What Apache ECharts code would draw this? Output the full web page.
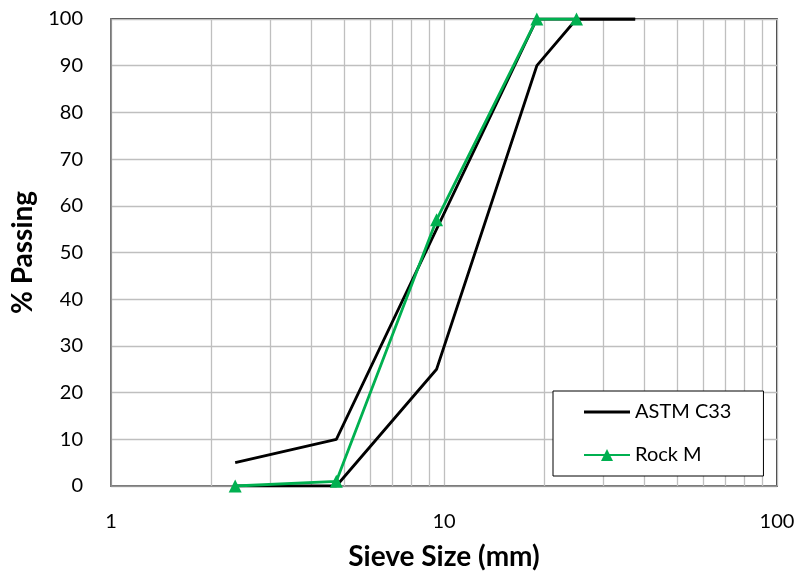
<!DOCTYPE html>
<html>
<head>
<meta charset="utf-8">
<script src="https://cdn.jsdelivr.net/npm/echarts@6/dist/echarts.min.js"></script>
<style>
  html, body { margin: 0; padding: 0; background: #fff; }
  #chart { width: 803px; height: 582px; }
</style>
</head>
<body>
<div id="chart"></div>
<script>
// Sieve sizes (mm) and percent passing
const sieveSizes = [2.36, 4.75, 9.5, 19, 25, 37.5];
const astmUpper = [5, 10, 55, 100, 100, 100];
const astmLower = [0, 0, 25, 90, 100, 100];
const rockSizes = [2.36, 4.75, 9.5, 19, 25];
const rockM = [0, 1, 57, 100, 100];
const xTicks = [1, 10, 100];
const minorGrid = [2, 3, 4, 5, 6, 7, 8, 9, 20, 30, 40, 50, 60, 70, 80, 90];

const FONT = 'Lato, "Open Sans", sans-serif';
const pairs = (xs, ys) => xs.map((x, i) => [x, ys[i]]);

const chart = echarts.init(document.getElementById('chart'), null, { renderer: 'canvas' });
chart.setOption({
  animation: false,
  backgroundColor: '#fff',
  grid: {
    left: 111, top: 19, right: 26, bottom: 96,
    show: true, borderColor: '#000', borderWidth: 1.5, backgroundColor: 'transparent'
  },
  xAxis: {
    type: 'log', logBase: 10, min: 1, max: 100,
    name: 'Sieve Size (mm)', nameLocation: 'middle', nameGap: 57,
    nameTextStyle: { fontFamily: FONT, fontWeight: 'bold', fontSize: 28, color: '#000' },
    axisLine: { show: true, lineStyle: { color: '#868686', width: 1.5 } },
    axisTick: { show: false },
    axisLabel: {
      fontFamily: FONT, fontSize: 20, color: '#000', margin: 26,
      formatter: v => (xTicks.includes(Math.round(v)) ? String(Math.round(v)) : '')
    },
    splitLine: { show: true, lineStyle: { color: '#bfbfbf', width: 1.3 } }
  },
  yAxis: {
    type: 'value', min: 0, max: 100, interval: 10,
    name: '% Passing', nameLocation: 'middle', nameGap: 72, nameRotate: 90,
    nameTextStyle: { fontFamily: FONT, fontWeight: 'bold', fontSize: 28, color: '#000' },
    axisLine: { show: true, lineStyle: { color: '#868686', width: 1.5 } },
    axisTick: { show: false },
    axisLabel: { fontFamily: FONT, fontSize: 20, color: '#000', margin: 28 },
    splitLine: { show: true, lineStyle: { color: '#bfbfbf', width: 1.3 } }
  },
  legend: {
    orient: 'vertical', left: 553, top: 391,
    backgroundColor: '#fff', borderColor: '#000', borderWidth: 1,
    padding: [11, 32, 11, 30], itemGap: 23, itemWidth: 46, itemHeight: 15,
    textStyle: { fontFamily: FONT, fontSize: 20, color: '#000' },
    data: [
      { name: 'ASTM C33', icon: 'path://M0,0 L46,0 L46,3 L0,3 Z' },
      { name: 'Rock M' }
    ]
  },
  series: [
    {
      name: 'ASTM C33', type: 'line', data: pairs(sieveSizes, astmUpper),
      symbol: 'none', lineStyle: { color: '#000', width: 2.8 }, itemStyle: { color: '#000' },
      z: 3,
      markLine: {
        silent: true, symbol: 'none', label: { show: false },
        lineStyle: { color: '#bfbfbf', width: 1.3, type: 'solid' },
        data: minorGrid.map(v => ({ xAxis: v })),
        z: 1
      }
    },
    {
      name: 'ASTM C33', type: 'line', data: pairs(sieveSizes, astmLower),
      symbol: 'none', lineStyle: { color: '#000', width: 2.8 }, itemStyle: { color: '#000' },
      z: 3
    },
    {
      name: 'Rock M', type: 'line', data: pairs(rockSizes, rockM),
      symbol: 'triangle', symbolSize: 13, showAllSymbol: true,
      lineStyle: { color: '#00B050', width: 2.8 }, itemStyle: { color: '#00B050' },
      z: 4
    }
  ]
});
</script>
</body>
</html>
